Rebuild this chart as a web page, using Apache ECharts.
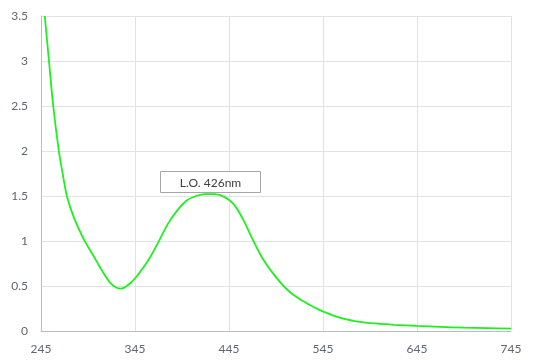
<!DOCTYPE html>
<html><head><meta charset="utf-8">
<script src="https://cdn.jsdelivr.net/npm/echarts@6/dist/echarts.min.js"></script>
<style>html,body{margin:0;padding:0;background:#fff}#c{width:533px;height:360px}</style>
</head><body><div id="c"></div>
<script>
const wavelengths = [249, 253.5, 258, 264, 268, 272.5, 280, 290, 300, 310, 320, 330, 340, 350, 360, 370, 380, 390, 400, 410, 420, 430, 440, 450, 460, 470, 480, 490, 500, 510, 520, 530, 540, 550, 560, 570, 580, 590, 600, 620, 645, 670, 695, 720, 745];
const absorbance = [3.5, 3.0, 2.5, 2.0, 1.75, 1.5, 1.26, 1.03, 0.85, 0.67, 0.52, 0.47, 0.53, 0.65, 0.80, 0.99, 1.19, 1.34, 1.45, 1.50, 1.52, 1.52, 1.49, 1.41, 1.24, 1.02, 0.82, 0.665, 0.535, 0.43, 0.355, 0.295, 0.24, 0.195, 0.158, 0.128, 0.108, 0.094, 0.084, 0.069, 0.056, 0.046, 0.037, 0.031, 0.026];
const xTicks = [245, 345, 445, 545, 645, 745];
const annotationText = 'L.O. 426nm';
const annotationX = [372, 478];
const annotationY = [1.552, 1.78];

const labelColor = '#5f6672';
const chart = echarts.init(document.getElementById('c'));
chart.setOption({
  animation: false,
  grid: {left: 41, right: 22, top: 16, bottom: 29},
  xAxis: {
    type: 'value', min: 245, max: 745,
    axisLine: {show: true, lineStyle: {color: '#b8bec8', width: 1}},
    axisTick: {show: false, customValues: xTicks},
    axisLabel: {customValues: xTicks, color: labelColor, fontFamily: 'Lato', fontSize: 12, margin: 12},
    splitLine: {show: true, lineStyle: {color: '#dfe2e8', width: 1}}
  },
  yAxis: {
    type: 'value', min: 0, max: 3.5, interval: 0.5,
    axisLine: {show: true, lineStyle: {color: '#b8bec8', width: 1}},
    axisTick: {show: false},
    axisLabel: {color: labelColor, fontFamily: 'Lato', fontSize: 12, margin: 13},
    splitLine: {show: true, lineStyle: {color: '#dfe2e8', width: 1}}
  },
  series: [{
    type: 'line',
    data: wavelengths.map((w, i) => [w, absorbance[i]]),
    smooth: 0.3,
    showSymbol: false,
    lineStyle: {color: '#1ef01e', width: 1.8}
  }]
});
const p0 = chart.convertToPixel({gridIndex: 0}, [annotationX[0], annotationY[1]]);
const p1 = chart.convertToPixel({gridIndex: 0}, [annotationX[1], annotationY[0]]);
const bx = Math.round(p0[0]) + 0.5, by = Math.round(p0[1]) + 0.5;
const bw = Math.round(p1[0] - p0[0]), bh = Math.round(p1[1] - p0[1]);
chart.setOption({
  graphic: [
    {type: 'rect', shape: {x: bx, y: by, width: bw, height: bh}, style: {fill: '#ffffff', stroke: '#a6a6a6', lineWidth: 1}, z: 100},
    {type: 'text', x: bx + bw / 2, y: by + bh / 2 + 1, style: {text: annotationText, fill: '#404040', font: '12px Lato', align: 'center', verticalAlign: 'middle'}, z: 101}
  ]
});
</script></body></html>
